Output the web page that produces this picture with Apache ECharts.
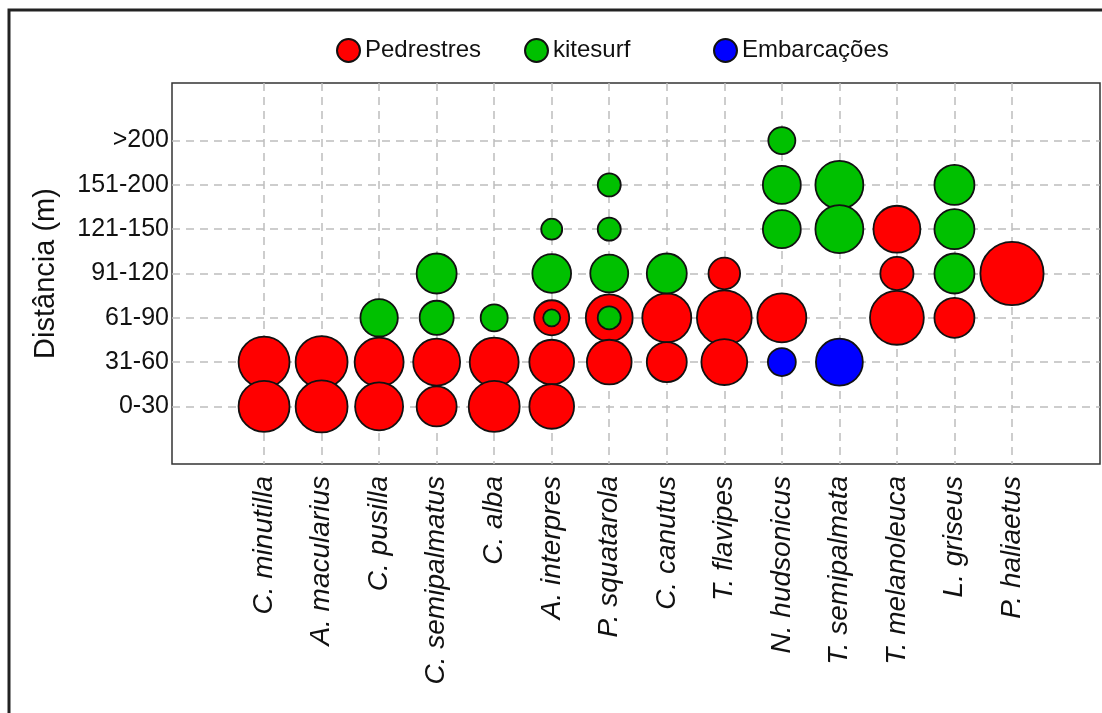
<!DOCTYPE html>
<html>
<head>
<meta charset="utf-8">
<script src="https://cdn.jsdelivr.net/npm/echarts@6/dist/echarts.min.js"></script>
<style>
html,body{margin:0;padding:0;background:#fff;}
#chart{width:1102px;height:713px;}
</style>
</head>
<body>
<div id="chart"></div>
<script>
// Species (x categories)
const species = ['C. minutilla','A. macularius','C. pusilla','C. semipalmatus','C. alba','A. interpres','P. squatarola','C. canutus','T. flavipes','N. hudsonicus','T. semipalmata','T. melanoleuca','L. griseus','P. haliaetus'];
// Distance classes (y categories)
const distances = ['0-30','31-60','61-90','91-120','121-150','151-200','>200'];
const seriesNames = ['Pedrestres','kitesurf','Embarcações'];
// [species index, distance index, magnitude]
const pedestres = [
  [0,1,26],[0,0,26],
  [1,1,27],[1,0,27],
  [2,1,24],[2,0,23],
  [3,1,22],[3,0,16],
  [4,1,24],[4,0,26],
  [5,2,12.3],[5,1,20],[5,0,20],
  [6,2,22],[6,1,20],
  [7,2,24],[7,1,16],
  [8,3,10],[8,2,30],[8,1,21],
  [9,2,24],
  [11,4,22],[11,3,11],[11,2,29],
  [12,2,16],
  [13,3,40]
];
const kitesurf = [
  [2,2,14],
  [3,3,16],[3,2,11.6],
  [4,2,7.3],
  [5,4,4.4],[5,3,15],[5,2,2.9],
  [6,5,5.3],[6,4,5.3],[6,3,14.4],[6,2,5.3],
  [7,3,16],
  [9,6,7.3],[9,5,14.4],[9,4,14.4],
  [10,5,23],[10,4,23],
  [12,5,16],[12,4,16],[12,3,16]
];
const embarcacoes = [
  [9,1,7.8],
  [10,1,22]
];
const colors = ['#ff0000','#00c000','#0000ff'];

const chart = echarts.init(document.getElementById('chart'));
const xIdx = species.map((s,i)=>i);
const yIdx = distances.map((s,i)=>i);
const sizeFn = v => 10*Math.sqrt(v[2]);
function mk(name, data, color){
  return {
    name, type:'scatter', data, symbol:'circle', symbolSize:sizeFn,
    itemStyle:{color, borderColor:'#111', borderWidth:1.8, opacity:1},
    emphasis:{disabled:true}, z:2
  };
}
const legendBase = {
  top:33, itemWidth:23, itemHeight:26, itemGap:7,
  icon:'path://M50,0 A50,50 0 1,1 50,100 A50,50 0 1,1 50,0 Z',
  textStyle:{fontFamily:'Liberation Sans, Arial, sans-serif', fontSize:24, color:'#111'},
  selectedMode:false
};
const option = {
  animation:false,
  backgroundColor:'#fff',
  graphic:[{type:'rect', shape:{x:9,y:10,width:1200,height:800}, style:{fill:'none', stroke:'#222', lineWidth:3}, silent:true}],
  legend:[
    Object.assign({}, legendBase, {left:331, data:[seriesNames[0]]}),
    Object.assign({}, legendBase, {left:519, data:[seriesNames[1]]}),
    Object.assign({}, legendBase, {left:708, data:[seriesNames[2]]})
  ],
  grid:{left:172, top:83, width:928, height:381, show:true, borderColor:'#333', borderWidth:1.5, containLabel:false},
  xAxis:{
    type:'value', min:-1.6, max:14.53,
    axisLine:{show:false},
    axisTick:{show:false, customValues:xIdx},
    axisLabel:{customValues:xIdx, rotate:90, margin:12, formatter:v=>species[v]||'',
      fontFamily:'Liberation Sans, Arial, sans-serif', fontStyle:'italic', fontSize:28, color:'#111'},
    splitLine:{show:true, lineStyle:{color:'#bdbdbd', width:1.5, type:[8,6]}}
  },
  yAxis:{
    type:'value', min:-1.3, max:7.3,
    name:'Distância (m)', nameLocation:'middle', nameGap:112, nameRotate:90,
    nameTextStyle:{fontFamily:'Liberation Sans, Arial, sans-serif', fontSize:29, color:'#111'},
    axisLine:{show:false},
    axisTick:{show:false, customValues:yIdx},
    axisLabel:{customValues:yIdx, margin:3, formatter:v=>distances[v]||'',
      fontFamily:'Liberation Sans, Arial, sans-serif', fontSize:25, color:'#111'},
    splitLine:{show:true, lineStyle:{color:'#bdbdbd', width:1.5, type:[8,6]}}
  },
  series:[
    mk(seriesNames[0], pedestres, colors[0]),
    mk(seriesNames[1], kitesurf, colors[1]),
    mk(seriesNames[2], embarcacoes, colors[2])
  ]
};
chart.setOption(option);
</script>
</body>
</html>
